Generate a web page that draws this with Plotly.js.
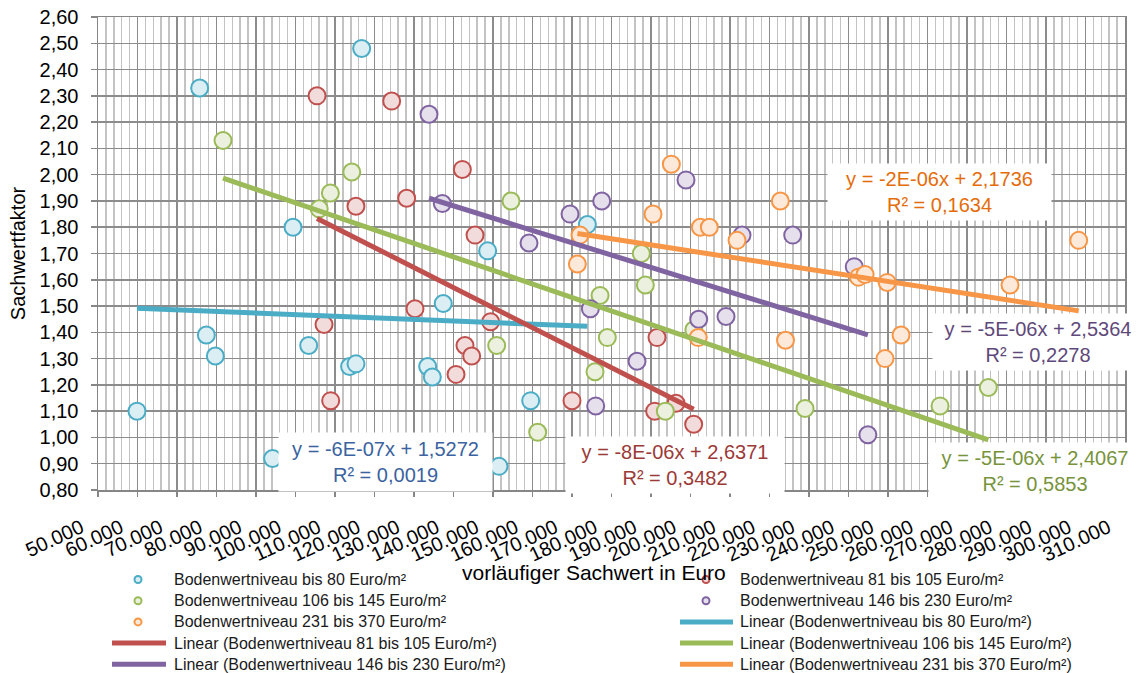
<!DOCTYPE html>
<html><head><meta charset="utf-8">
<script src="https://cdn.plot.ly/plotly-3.0.1.min.js"></script>
<style>html,body{margin:0;padding:0;background:#fff;} #chart{width:1143px;height:673px;}</style>
</head><body><div id="chart"></div>
<script>
// ---------- data ----------
const seriesNames = [
  'Bodenwertniveau bis 80 Euro/m²',
  'Bodenwertniveau 81 bis 105 Euro/m²',
  'Bodenwertniveau 106 bis 145 Euro/m²',
  'Bodenwertniveau 146 bis 230 Euro/m²',
  'Bodenwertniveau 231 bis 370 Euro/m²'
];
const blueX = [59870, 75740, 77430, 79710, 94200, 99370, 103340, 113700, 115320, 116750, 133460, 134640, 137400, 148650, 151520, 159540, 173890];
const blueY = [1.10, 2.33, 1.39, 1.31, 0.92, 1.80, 1.35, 1.27, 1.28, 2.48, 1.27, 1.23, 1.51, 1.71, 0.89, 1.14, 1.81];
const redX = [105450, 107220, 108910, 115300, 124350, 128140, 130250, 140640, 142240, 142910, 144600, 145450, 149400, 170000, 190930, 191520, 196330, 200800];
const redY = [2.30, 1.43, 1.14, 1.88, 2.28, 1.91, 1.49, 1.24, 2.02, 1.35, 1.31, 1.77, 1.44, 1.14, 1.10, 1.38, 1.13, 1.05];
const greenX = [81650, 106000, 108830, 114250, 150930, 154560, 161310, 175830, 177100, 178950, 187550, 188570, 193630, 200850, 229000, 263180, 275400];
const greenY = [2.13, 1.87, 1.93, 2.01, 1.35, 1.90, 1.02, 1.25, 1.54, 1.38, 1.70, 1.58, 1.10, 1.41, 1.11, 1.12, 1.19];
const purpleX = [133800, 137170, 159120, 169500, 174650, 176000, 177520, 186460, 198860, 202070, 208990, 213040, 225870, 241450, 244900];
const purpleY = [2.23, 1.89, 1.74, 1.85, 1.49, 1.12, 1.90, 1.29, 1.98, 1.45, 1.46, 1.77, 1.77, 1.65, 1.01];
const orangeX = [171360, 172030, 190510, 195150, 201950, 202490, 204770, 211780, 222750, 224050, 242510, 244200, 249240, 249800, 253300, 280890, 298280];
const orangeY = [1.66, 1.77, 1.85, 2.04, 1.38, 1.80, 1.80, 1.75, 1.90, 1.37, 1.61, 1.62, 1.30, 1.59, 1.39, 1.58, 1.75];

// linear trend coefficients (y = slope*x + intercept)
const trendSlope = [-6.0e-7, -7.62e-6, -5.14e-6, -4.68e-6, -2.32e-6];
const trendIntercept = [1.5272, 2.6371, 2.4067, 2.5364, 2.1736];
const trendLabels = [
  'y = -6E-07x + 1,5272<br>R² = 0,0019',
  'y = -8E-06x + 2,6371<br>R² = 0,3482',
  'y = -5E-06x + 2,4067<br>R² = 0,5853',
  'y = -5E-06x + 2,5364<br>R² = 0,2278',
  'y = -2E-06x + 2,1736<br>R² = 0,1634'
];
const xTitle = 'vorläufiger Sachwert in Euro';
const yTitle = 'Sachwertfaktor';

// ---------- styling ----------
const lineColors = ['#4BACC6', '#C0504D', '#9BBB59', '#8064A2', '#F79646'];
const fillColors = ['#DAEEF3', '#F2DCDB', '#EBF1DE', '#E5E0EC', '#FDE9D9'];
const labelColors = ['#3a63a0', '#9b3a37', '#77933c', '#5f497a', '#e46c0a'];
const FONT = 'Liberation Sans, Arial, sans-serif';

const xs = [blueX, redX, greenX, purpleX, orangeX];
const ys = [blueY, redY, greenY, purpleY, orangeY];

const traces = [];
for (let i = 0; i < 5; i++) {
  traces.push({
    type: 'scatter', mode: 'markers', name: seriesNames[i], x: xs[i], y: ys[i],
    marker: {size: 17, color: fillColors[i], line: {color: lineColors[i], width: 2}},
    showlegend: false, hoverinfo: 'x+y'
  });
}
for (let i = 0; i < 5; i++) {
  const xmin = Math.min(...xs[i]), xmax = Math.max(...xs[i]);
  traces.push({
    type: 'scatter', mode: 'lines', name: 'Linear (' + seriesNames[i] + ')',
    x: [xmin, xmax],
    y: [trendSlope[i] * xmin + trendIntercept[i], trendSlope[i] * xmax + trendIntercept[i]],
    line: {color: lineColors[i], width: 5}, showlegend: false, hoverinfo: 'skip'
  });
}

// ---------- geometry helpers ----------
const W = 1143, H = 673, ML = 98, MR = 18, MT = 17, MB = 183;
const pw = W - ML - MR, ph = H - MT - MB;
const px2p = px => (px - ML) / pw;
const py2p = py => (H - MB - py) / ph;

// equation label boxes: [cx, cy, w, h]
const eqBoxes = [[385.5, 462, 213, 58], [675, 465, 218, 56], [1035, 471, 212, 56], [1038, 342, 210, 56], [939.5, 192, 223, 56]];
const annotations = [];
const shapes = [];
for (let i = 0; i < 5; i++) {
  const b = eqBoxes[i];
  annotations.push({
    xref: 'paper', yref: 'paper', x: px2p(b[0]), y: py2p(b[1]), xanchor: 'center', yanchor: 'middle',
    width: b[2], height: b[3], bgcolor: '#ffffff', borderpad: 0, showarrow: false,
    text: trendLabels[i], font: {family: FONT, size: 20, color: labelColors[i]}, align: 'center'
  });
}

// x axis title (placed to overlap the rotated tick-label band as in the original)
annotations.push({xref: 'paper', yref: 'paper', x: px2p(594), y: py2p(572), xanchor: 'center', yanchor: 'middle',
  showarrow: false, text: xTitle, font: {family: FONT, size: 21, color: '#000'}});

// custom legend (two columns)
const legendLabels = seriesNames.concat(seriesNames.map(n => 'Linear (' + n + ')'));
const rowY0 = 579.5, rowStep = 21.2;
const colSym = [138, 706], colLine = [[112, 166], [680, 733]], colText = [172, 738];
legendLabels.forEach((lab, k) => {
  const col = k % 2, row = Math.floor(k / 2), s = k % 5;
  const py = rowY0 + row * rowStep;
  if (k < 5) {
    shapes.push({type: 'circle', xref: 'paper', yref: 'paper', xsizemode: 'pixel', ysizemode: 'pixel',
      xanchor: px2p(colSym[col]), yanchor: py2p(py), x0: -3.5, x1: 3.5, y0: -3.5, y1: 3.5,
      line: {color: lineColors[s], width: 2}, fillcolor: fillColors[s]});
  } else {
    shapes.push({type: 'line', xref: 'paper', yref: 'paper',
      x0: px2p(colLine[col][0]), x1: px2p(colLine[col][1]), y0: py2p(py), y1: py2p(py),
      line: {color: lineColors[s], width: 5}});
  }
  annotations.push({xref: 'paper', yref: 'paper', x: px2p(colText[col]), y: py2p(py),
    xanchor: 'left', yanchor: 'middle', showarrow: false, text: lab,
    font: {family: FONT, size: 16, color: '#1a1a1a'}});
});

const layout = {
  width: W, height: H,
  margin: {l: ML, r: MR, t: MT, b: MB, pad: 0},
  paper_bgcolor: '#ffffff', plot_bgcolor: '#ffffff',
  separators: ',.',
  font: {family: FONT, color: '#000000'},
  showlegend: false,
  xaxis: {
    range: [50000, 310000], dtick: 10000, tick0: 50000, tickformat: ',d',
    tickangle: -25, tickfont: {family: FONT, size: 20, color: '#000'},
    ticks: 'outside', ticklen: 5, tickcolor: '#868686', tickwidth: 1.5,
    ticklabelstandoff: 12, ticklabelshift: -17,
    showgrid: true, gridcolor: '#8c8c8c', gridwidth: 1.5,
    minor: {dtick: 2000, showgrid: true, gridcolor: '#c3c3c3', gridwidth: 1.5, ticks: ''},
    showline: true, linecolor: '#868686', linewidth: 1.5, mirror: true, zeroline: false,
    automargin: false
  },
  yaxis: {
    range: [0.8, 2.6], dtick: 0.1, tick0: 0.8, tickformat: '.2f',
    tickfont: {family: FONT, size: 20, color: '#000'},
    ticks: 'outside', ticklen: 6, tickcolor: '#868686', tickwidth: 1.5,
    ticklabelstandoff: 8,
    showgrid: true, gridcolor: '#8c8c8c', gridwidth: 1.5,
    showline: true, linecolor: '#868686', linewidth: 1.5, mirror: true, zeroline: false,
    title: {text: yTitle, font: {family: FONT, size: 20, color: '#000'}, standoff: 8},
    automargin: false
  },
  annotations: annotations,
  shapes: shapes
};

Plotly.newPlot('chart', traces, layout, {displayModeBar: false, staticPlot: true});
</script>
</body></html>
